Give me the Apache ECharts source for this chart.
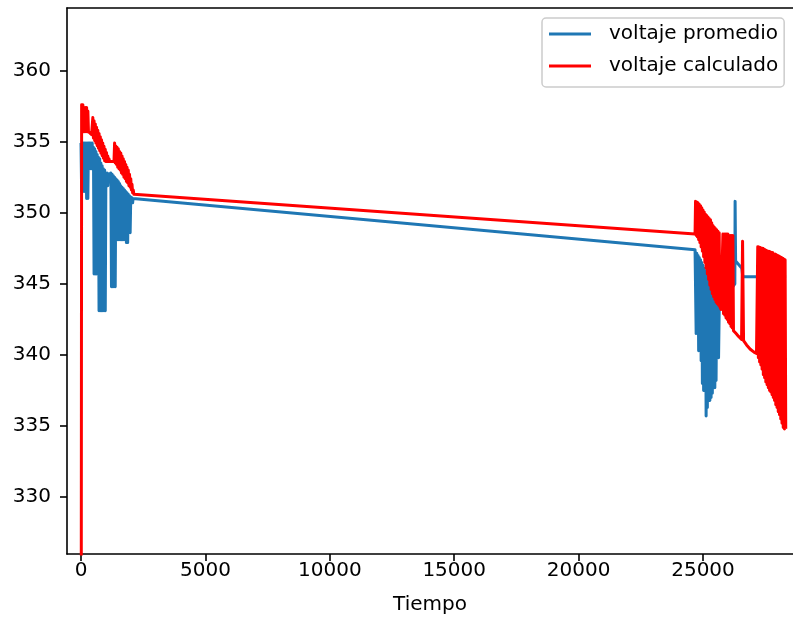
<!DOCTYPE html>
<html>
<head>
<meta charset="utf-8">
<script src="https://cdn.jsdelivr.net/npm/echarts@6/dist/echarts.min.js"></script>
<style>
html,body{margin:0;padding:0;background:#fff;}
#chart{width:793px;height:623px;}
</style>
</head>
<body>
<div id="chart"></div>
<script>
// ---- data: [Tiempo, voltaje] ----
const seriesNames = ['voltaje promedio', 'voltaje calculado'];
const xTicks = [0, 5000, 10000, 15000, 20000, 25000];
const yTicks = [330, 335, 340, 345, 350, 355, 360];

const voltajePromedio = [
  [0,354.9],[25,351.5],[50,354.9],[75,351.5],[100,354.9],[125,351.5],[150,354.9],[175,351.5],[200,354.9],[225,351.0],
  [250,354.9],[275,351.0],[300,354.9],[325,353.1],[350,354.9],[375,353.1],[400,354.9],[425,353.1],[450,354.9],[475,353.1],
  [500,354.6],[525,345.7],[550,354.5],[575,345.7],[600,354.3],[625,345.7],[650,354.1],[675,345.7],[700,353.9],[725,343.1],
  [750,353.8],[775,343.1],[800,353.5],[825,343.1],[850,353.3],[875,343.1],[900,353.1],[925,343.1],[950,353.0],[975,343.1],
  [1000,352.8],[1025,351.9],[1050,352.8],[1075,351.9],[1100,352.7],[1125,352.4],[1150,352.75],[1175,352.4],[1200,352.8],[1225,344.8],
  [1250,352.7],[1275,344.8],[1300,352.6],[1325,344.8],[1350,352.5],[1375,344.8],[1400,352.4],[1425,348.1],[1450,352.3],[1475,348.1],
  [1500,352.2],[1525,348.1],[1550,352.05],[1575,348.1],[1600,351.9],[1625,348.1],[1650,351.8],[1675,348.1],[1700,351.7],[1725,348.1],
  [1750,351.6],[1775,348.1],[1800,351.5],[1825,347.9],[1850,351.4],[1875,347.9],[1900,351.3],[1925,348.6],[1950,351.2],[1975,348.6],
  [2000,351.1],[2025,350.7],[2050,351.05],[2075,350.7],[2090,351.0],
  [24680,347.4],[24700,347.3],[24725,341.5],[24750,347.15],[24775,341.5],[24800,347.0],[24825,340.3],[24850,346.85],[24875,340.3],
  [24900,346.7],[24925,339.6],[24950,346.5],[24975,338.0],[25000,346.3],[25025,337.5],[25050,346.1],[25075,337.5],[25100,345.9],
  [25125,335.7],[25150,345.7],[25175,336.3],[25200,345.5],[25225,336.8],[25250,345.35],[25275,336.8],[25300,345.2],[25325,337.0],
  [25350,345.05],[25375,337.3],[25400,344.9],[25425,337.7],[25450,344.75],[25475,337.7],[25500,344.6],[25525,338.2],[25550,344.5],
  [25575,339.8],[25600,344.4],[25625,339.8],[25660,344.3],[25780,343.8],[26000,344.2],[26200,344.8],[26280,345.0],[26290,350.8],
  [26310,346.6],[26560,346.1],[26600,345.5],[28340,345.5]
];

const voltajeCalculado = [
  [0,300.0],[25,357.6],[50,355.7],[75,357.6],[100,355.7],[125,357.4],[150,355.7],[175,357.4],[200,355.7],[225,357.4],
  [250,355.7],[275,357.15],[300,355.7],[325,355.6],[375,355.6],[425,355.5],[450,355.4],[475,356.7],[500,355.25],[525,356.47],
  [550,355.07],[575,356.25],[600,354.9],[625,356.02],[650,354.72],[675,355.8],[700,354.54],[725,355.58],[750,354.36],[775,355.35],
  [800,354.19],[825,355.13],[850,354.01],[875,354.9],[900,353.83],[925,354.68],[950,353.65],[975,354.46],[1000,353.6],[1025,354.23],
  [1050,353.6],[1075,354.0],[1100,353.6],[1125,353.8],[1150,353.6],[1325,353.6],[1350,354.9],[1375,353.5],[1400,354.7],[1425,353.4],
  [1450,354.6],[1475,353.2],[1500,354.5],[1525,353.1],[1550,354.3],[1575,353.0],[1600,354.2],[1625,352.8],[1650,354.0],[1675,352.7],
  [1700,353.8],[1725,352.5],[1750,353.6],[1775,352.4],[1800,353.4],[1825,352.2],[1850,353.2],[1875,352.1],[1900,353.0],[1925,351.9],
  [1950,352.7],[1975,351.8],[2000,352.4],[2025,351.6],[2050,352.0],[2075,351.4],[2100,351.6],[2125,351.3],
  [24680,348.5],[24700,350.8],[24725,348.4],[24750,350.75],[24775,348.3],[24800,350.7],[24825,348.1],[24850,350.6],[24875,347.9],
  [24900,350.5],[24925,347.6],[24950,350.35],[24975,347.3],[25000,350.2],[25025,346.9],[25050,350.05],[25075,346.5],[25100,349.9],
  [25125,346.1],[25150,349.8],[25175,345.7],[25200,349.7],[25225,345.3],[25250,349.6],[25275,344.9],[25300,349.5],[25325,344.6],
  [25350,349.3],[25375,344.3],[25400,349.1],[25425,344.1],[25450,349.0],[25475,343.9],[25500,348.9],[25525,343.7],[25550,348.8],
  [25575,343.6],[25600,348.7],[25625,343.5],[25650,348.6],[25675,343.4],[25725,343.2],[25775,343.1],[25800,348.5],[25825,342.9],
  [25850,348.5],[25875,342.8],[25900,348.5],[25925,342.6],[25950,348.5],[25975,342.5],[26000,348.5],[26025,342.3],[26050,348.4],
  [26075,342.2],[26100,348.4],[26125,342.0],[26150,348.4],[26175,341.9],[26200,348.4],[26225,341.7],[26330,341.5],[26430,341.3],
  [26550,341.1],[26590,348.0],[26630,341.0],[26750,340.7],[26900,340.4],[27050,340.2],[27150,340.1],
  [27175,340.0],[27200,347.6],[27225,339.8],[27250,347.6],[27275,339.5],[27300,347.55],[27325,339.3],[27350,347.5],[27375,339.0],
  [27400,347.5],[27425,338.6],[27450,347.45],[27475,338.4],[27500,347.4],[27525,338.1],[27550,347.35],[27575,337.9],[27600,347.3],
  [27625,337.7],[27650,347.3],[27675,337.5],[27700,347.25],[27725,337.4],[27750,347.2],[27775,337.2],[27800,347.2],[27825,337.0],
  [27850,347.1],[27875,336.8],[27900,347.1],[27925,336.5],[27950,347.05],[27975,336.3],[28000,347.0],[28025,336.0],[28050,346.95],
  [28075,335.8],[28100,346.9],[28125,335.5],[28150,346.85],[28175,335.2],[28200,346.8],[28225,334.9],[28250,346.75],[28275,334.8],
  [28300,346.7],[28325,334.8]
];

// ---- chart ----
const FONT = 'DejaVu Sans';
const X_MIN = -563, X_MAX = 28617, Y_MIN = 326.0, Y_MAX = 364.4;
const fmt = v => String(v);
const chart = echarts.init(document.getElementById('chart'), null, {renderer: 'canvas'});

chart.setOption({
  animation: false,
  backgroundColor: '#ffffff',
  grid: {left: 67, right: 0, top: 8, bottom: 69, show: false},
  legend: {
    left: 542, top: 18, orient: 'vertical',
    itemWidth: 42, itemHeight: 3, itemGap: 12,
    padding: [6, 6, 11, 7],
    borderColor: '#cccccc', borderWidth: 1.5, borderRadius: 4,
    backgroundColor: 'rgba(255,255,255,0.8)',
    itemStyle: {borderWidth: 0},
    textStyle: {fontSize: 20, color: '#000', fontFamily: FONT, lineHeight: 20, padding: [0, 0, 0, 13]},
    data: seriesNames.map(n => ({name: n, icon: 'rect'}))
  },
  xAxis: [{
    type: 'value', min: X_MIN, max: X_MAX, position: 'bottom',
    name: 'Tiempo', nameLocation: 'middle', nameGap: 41,
    nameTextStyle: {fontSize: 20, color: '#000', fontFamily: FONT},
    axisLine: {show: true, onZero: false, lineStyle: {color: '#000', width: 1.6}},
    axisTick: {show: true, customValues: xTicks, length: 7, lineStyle: {color: '#000', width: 1.6}},
    axisLabel: {customValues: xTicks, formatter: fmt, margin: 7, fontSize: 20, color: '#000', fontFamily: FONT},
    splitLine: {show: false}
  }, {
    type: 'value', min: X_MIN, max: X_MAX, position: 'top',
    axisLine: {show: true, onZero: false, lineStyle: {color: '#000', width: 1.6}},
    axisTick: {show: false}, axisLabel: {show: false}, splitLine: {show: false}
  }],
  yAxis: {
    type: 'value', min: Y_MIN, max: Y_MAX,
    axisLine: {show: true, onZero: false, lineStyle: {color: '#000', width: 1.6}},
    axisTick: {show: true, customValues: yTicks, length: 7, lineStyle: {color: '#000', width: 1.6}},
    axisLabel: {customValues: yTicks, formatter: fmt, margin: 16, fontSize: 20, color: '#000', fontFamily: FONT},
    splitLine: {show: false}
  },
  series: [
    {
      name: seriesNames[0], type: 'line', data: voltajePromedio, xAxisIndex: 0,
      symbol: 'none', clip: true, color: '#1f77b4',
      lineStyle: {color: '#1f77b4', width: 3, join: 'round'}
    },
    {
      name: seriesNames[1], type: 'line', data: voltajeCalculado, xAxisIndex: 0,
      symbol: 'none', clip: true, color: '#ff0000',
      lineStyle: {color: '#ff0000', width: 3, join: 'round'}
    }
  ]
});
</script>
</body>
</html>
